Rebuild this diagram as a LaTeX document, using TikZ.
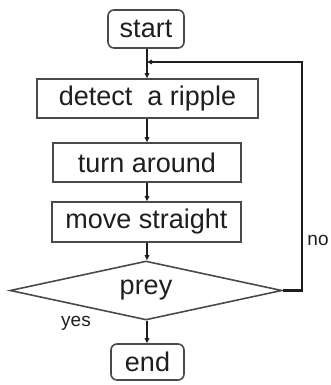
\documentclass[tikz,border=0pt]{standalone}
\usepackage{fontspec}
\setmainfont{Liberation Sans}
\usetikzlibrary{shapes.geometric,arrows.meta}
\definecolor{ink}{HTML}{1E1E1E}
\definecolor{edge}{HTML}{4A4A4A}
\begin{document}
\begin{tikzpicture}[x=1pt,y=-1pt,
  box/.style={draw=edge,line width=1.6pt,rectangle,inner sep=0pt,text=ink,font=\fontsize{27}{30}\selectfont},
  term/.style={box,rounded corners=6pt},
  decision/.style={draw=edge,line width=1.6pt,diamond,aspect=4.6,inner sep=0pt,text=ink,font=\fontsize{27}{30}\selectfont},
  flow/.style={draw=ink,line width=1.4pt,-{Triangle[length=5pt,width=4.5pt]}},
  loop/.style={draw=ink,line width=2.4pt},
  lbl/.style={text=ink,font=\fontsize{19}{22}\selectfont,inner sep=0pt}]
  \useasboundingbox (0,0) rectangle (331,385);

  \node[term,minimum width=76pt,minimum height=38pt] (start) at (146,29) {start};
  \node[box,minimum width=221pt,minimum height=39pt] (detect) at (147.5,98.5) {detect\ \ a ripple};
  \node[box,minimum width=188pt,minimum height=39pt] (turn) at (147,162.5) {turn around};
  \node[box,minimum width=189pt,minimum height=40pt] (move) at (146.5,222) {move straight};
  \node[decision,minimum width=272pt,minimum height=59pt] (prey) at (146,290.5) {prey};
  \node[term,minimum width=73pt,minimum height=36pt] (end) at (147.5,362) {end};

  \coordinate (join) at (147,62);
  \coordinate (rtop) at (302,62);
  \coordinate (rbot) at (302,290.5);

  \draw[flow] (start.south -| join) -- (detect.north -| join);
  \draw[flow] (detect.south -| join) -- (turn.north -| join);
  \draw[flow] (turn.south -| join) -- (move.north -| join);
  \draw[flow] (move.south -| join) -- (prey.north -| join);
  \draw[flow] (prey.south -| join) -- (end.north -| join);

  \draw[loop] (prey.east) -- (rbot) -- (rtop) -- ([xshift=3pt]join);
  \draw[flow] ([xshift=6pt]join) -- (join);

  \node[lbl] (no) at (318,240) {no};
  \node[lbl] (yes) at (76,323) {yes};
\end{tikzpicture}
\end{document}
